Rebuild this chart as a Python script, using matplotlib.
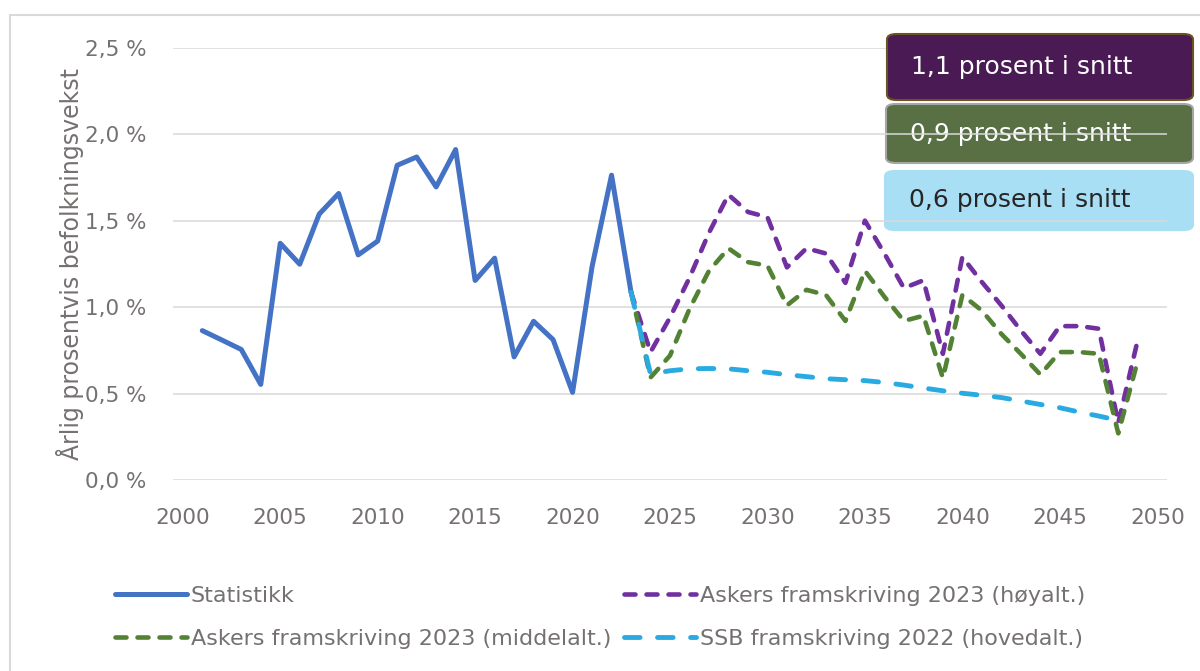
import matplotlib.pyplot as plt
from matplotlib.patches import FancyBboxPatch, Rectangle

# Historical growth (Statistikk), 2001-2023
stat_years = list(range(2001, 2024))
stat_values = [0.864, 0.81, 0.755, 0.553, 1.369, 1.248, 1.538, 1.657, 1.302, 1.382,
               1.820, 1.868, 1.695, 1.911, 1.154, 1.283, 0.712, 0.918, 0.812, 0.507,
               1.234, 1.763, 1.086]

# Projections from 2023
proj_years = list(range(2023, 2050))
high_values = [1.086, 0.74, 0.94, 1.17, 1.43, 1.65, 1.55, 1.52, 1.23, 1.34,
               1.31, 1.14, 1.50, 1.31, 1.11, 1.155, 0.73, 1.29, 1.145, 1.01,
               0.865, 0.73, 0.89, 0.89, 0.875, 0.33, 0.81]
mid_values = [1.086, 0.593, 0.72, 0.99, 1.21, 1.34, 1.26, 1.24, 1.01, 1.10,
              1.07, 0.92, 1.21, 1.06, 0.92, 0.95, 0.59, 1.07, 0.98, 0.845,
              0.73, 0.61, 0.74, 0.74, 0.73, 0.27, 0.69]
ssb_years = list(range(2023, 2049))
ssb_values = [1.086, 0.613, 0.632, 0.643, 0.645, 0.643, 0.632, 0.623, 0.609, 0.598,
              0.586, 0.58, 0.575, 0.564, 0.549, 0.532, 0.516, 0.502, 0.49, 0.477,
              0.457, 0.437, 0.418, 0.393, 0.37, 0.345]

labels = ["Statistikk", "Askers framskriving 2023 (høyalt.)",
          "Askers framskriving 2023 (middelalt.)", "SSB framskriving 2022 (hovedalt.)"]
y_ticks = [0.0, 0.5, 1.0, 1.5, 2.0, 2.5]
y_tick_labels = ["0,0 %", "0,5 %", "1,0 %", "1,5 %", "2,0 %", "2,5 %"]
x_ticks = list(range(2000, 2051, 5))
box_texts = ["1,1 prosent i snitt", "0,9 prosent i snitt", "0,6 prosent i snitt"]

plt.rcParams['font.family'] = ['DejaVu Sans']
grey = '#767171'

fig = plt.figure(figsize=(12, 6.71), dpi=100)
ax = fig.add_axes([0.1442, 0.2846, 0.8283, 0.6443])

# outer frame
fig.patches.append(Rectangle((10 / 1200, -0.1), 1.2, 1 - 15 / 671 + 0.1,
                             transform=fig.transFigure, fill=False,
                             edgecolor='#d9d9d9', lw=1.5))

l_stat, = ax.plot(stat_years, stat_values, color='#4472c4', lw=3.6,
                  solid_capstyle='round', solid_joinstyle='round', zorder=3)
l_high, = ax.plot(proj_years, high_values, color='#7030a0', lw=3.3,
                  dashes=(2.4, 2.4), dash_capstyle='round', zorder=3)
l_mid, = ax.plot(proj_years, mid_values, color='#548235', lw=3.3,
                 dashes=(2.4, 2.4), dash_capstyle='round', zorder=3)
l_ssb, = ax.plot(ssb_years, ssb_values, color='#29abe2', lw=3.5,
                 dashes=(3.2, 3.6), dash_capstyle='round', zorder=3)

ax.set_xlim(1999.5, 2050.5)
ax.set_ylim(0, 2.5)
ax.set_xticks(x_ticks)
ax.set_yticks(y_ticks)
ax.set_yticklabels(y_tick_labels)
ax.tick_params(length=0, labelsize=15.5, labelcolor=grey)
ax.tick_params(axis='y', pad=19)
ax.tick_params(axis='x', pad=20)
ax.grid(axis='y', color='#d9d9d9', lw=1.1, zorder=1.5)
for s in ax.spines.values():
    s.set_visible(False)
ax.set_ylabel("Årlig prosentvis befolkningsvekst", fontsize=17, color=grey, labelpad=1)

# average boxes (top right); the top one covers the gridline, the others don't
boxes = [
    ((887, 34, 1193, 100), '#4a1a55', '#6b5223', 'white', 2),
    ((886, 104, 1193, 163), '#587044', '#a6a6a6', 'white', 1),
    ((885, 171, 1193, 230), '#a9dff4', '#a9dff4', '#262626', 1),
]
for ((x0, y0, x1, y1), fc, ec, tc, z), txt in zip(boxes, box_texts):
    p = FancyBboxPatch((x0 / 1200, 1 - y1 / 671), (x1 - x0) / 1200, (y1 - y0) / 671,
                       boxstyle="round,pad=0,rounding_size=0.008",
                       transform=fig.transFigure, facecolor=fc, edgecolor=ec,
                       lw=1.5, clip_on=False, zorder=z)
    ax.add_patch(p)
    ax.text((x0 + 24) / 1200, 1 - (y0 + y1) / 2 / 671, txt, transform=fig.transFigure,
            fontsize=18, color=tc, va='center', ha='left', clip_on=False, zorder=z + 0.2)

handles = [l_stat, l_mid, l_high, l_ssb]
leg_labels = [labels[0], labels[2], labels[1], labels[3]]
leg = fig.legend(handles, leg_labels, loc='upper left', bbox_to_anchor=(95 / 1200, 1 - 566 / 671),
                 ncol=2, frameon=False, fontsize=16, handlelength=3.25,
                 handletextpad=0.15, columnspacing=0.6, labelspacing=1.04)
for t in leg.get_texts():
    t.set_color(grey)

plt.savefig("out.png", dpi=100)
